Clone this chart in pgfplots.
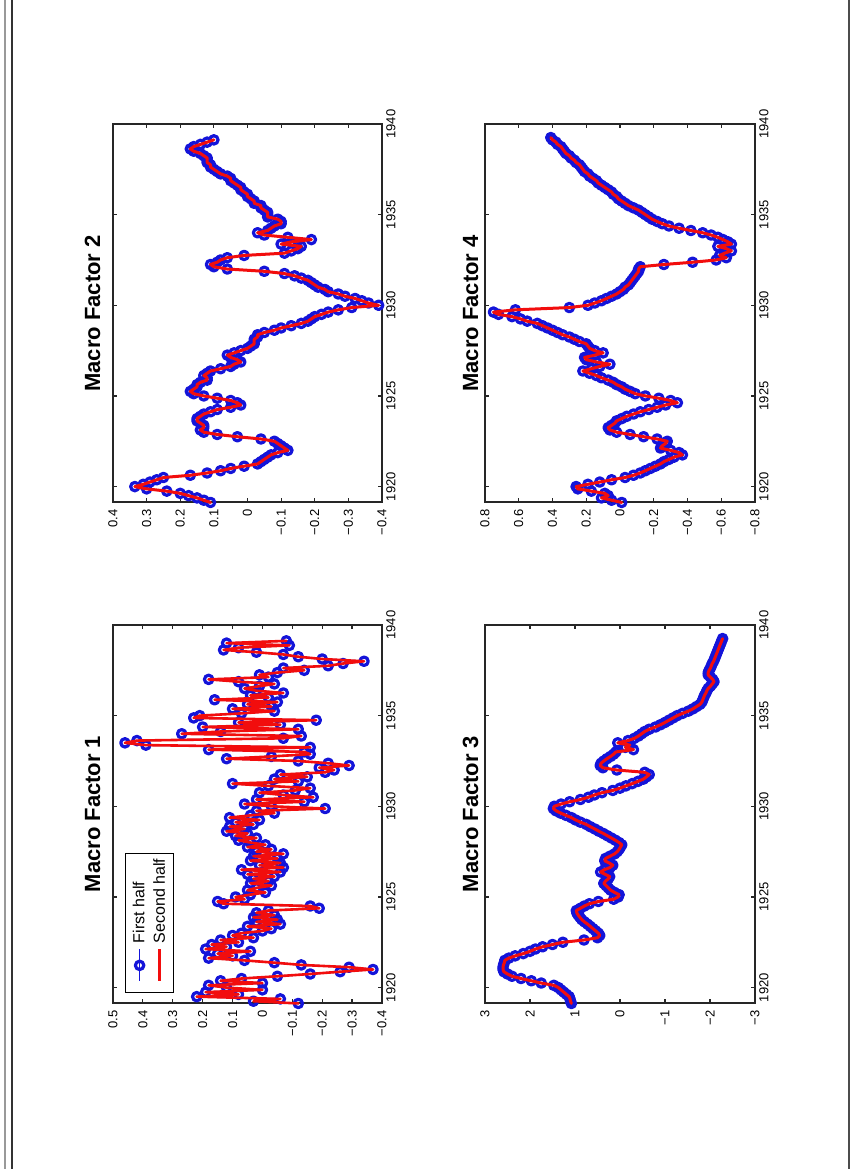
\documentclass[border=0pt]{standalone}
\usepackage{pgfplots}
\pgfplotsset{compat=1.18}
\usepackage{pgfplotstable}
\usepackage{fontspec}
\setmainfont{Liberation Sans}
\definecolor{mblue}{rgb}{0.08,0.08,0.85}
\definecolor{mred}{rgb}{0.95,0.05,0.05}

\pgfplotstableread{
t v
1919.125 -0.12
1919.25 0.03
1919.375 -0.06
1919.5 0.22
1919.625 0.08
1919.75 0.19
1919.875 0.00
1920.0 0.12
1920.125 0.18
1920.25 0.00
1920.375 0.14
1920.5 0.07
1920.625 -0.05
1920.75 -0.16
1920.875 -0.26
1921.0 -0.37
1921.125 -0.29
1921.25 -0.13
1921.375 -0.04
1921.5 0.06
1921.625 0.18
1921.75 0.10
1921.875 0.15
1922.0 0.04
1922.125 0.19
1922.25 0.12
1922.375 0.17
1922.5 0.08
1922.625 0.14
1922.75 0.03
1922.875 0.10
1923.0 0.07
1923.125 0.00
1923.25 -0.03
1923.375 0.05
1923.5 -0.06
1923.625 0.02
1923.75 -0.05
1923.875 0.03
1924.0 -0.04
1924.125 0.02
1924.25 -0.02
1924.375 -0.19
1924.5 -0.16
1924.625 0.13
1924.75 0.15
1924.875 0.06
1925.0 0.09
1925.125 0.04
1925.25 -0.01
1925.375 0.05
1925.5 0.02
1925.625 -0.03
1925.75 0.04
1925.875 -0.02
1926.0 0.03
1926.125 -0.04
1926.25 0.05
1926.375 -0.06
1926.5 0.07
1926.625 -0.07
1926.75 0.01
1926.875 -0.06
1927.0 0.04
1927.125 -0.05
1927.25 0.03
1927.375 -0.07
1927.5 0.02
1927.625 -0.03
1927.75 0.05
1927.875 -0.01
1928.0 0.04
1928.125 0.08
1928.25 0.02
1928.375 0.09
1928.5 0.05
1928.625 0.12
1928.75 0.06
1928.875 0.11
1929.0 0.03
1929.125 0.09
1929.25 0.01
1929.375 0.11
1929.5 0.04
1929.625 -0.04
1929.75 0.02
1929.875 -0.21
1930.0 -0.03
1930.125 0.06
1930.25 -0.14
1930.375 0.02
1930.5 -0.17
1930.625 -0.07
1930.75 0.01
1930.875 -0.11
1931.0 -0.16
1931.125 -0.02
1931.25 0.10
1931.375 -0.12
1931.5 -0.04
1931.625 -0.15
1931.75 -0.06
1931.875 -0.21
1932.0 -0.24
1932.125 -0.19
1932.25 -0.29
1932.375 -0.22
1932.5 -0.12
1932.625 0.12
1932.75 -0.03
1932.875 -0.16
1933.0 -0.14
1933.125 0.18
1933.25 -0.16
1933.375 0.39
1933.5 0.46
1933.625 0.42
1933.75 -0.07
1933.875 -0.13
1934.0 0.27
1934.125 0.14
1934.25 -0.12
1934.375 0.20
1934.5 -0.06
1934.625 0.08
1934.75 -0.18
1934.875 0.23
1935.0 0.21
1935.125 0.07
1935.25 -0.04
1935.375 0.10
1935.5 -0.03
1935.625 0.05
1935.75 -0.05
1935.875 0.16
1936.0 -0.02
1936.125 0.04
1936.25 -0.07
1936.375 0.02
1936.5 0.06
1936.625 0.01
1936.75 -0.04
1936.875 0.08
1937.0 0.18
1937.125 -0.02
1937.25 0.01
1937.375 -0.05
1937.5 -0.14
1937.625 -0.07
1937.75 -0.22
1937.875 -0.27
1938.0 -0.34
1938.125 -0.20
1938.25 -0.12
1938.375 -0.07
1938.5 0.02
1938.625 0.13
1938.75 0.08
1938.875 -0.09
1939.0 0.12
1939.125 -0.08
}\fone

\pgfplotstableread{
t v
1919.125 0.11
1919.25 0.13
1919.375 0.15
1919.5 0.175
1919.625 0.20
1919.75 0.24
1919.875 0.30
1920.0 0.335
1920.125 0.31
1920.25 0.29
1920.375 0.27
1920.5 0.25
1920.625 0.17
1920.75 0.12
1920.875 0.08
1921.0 0.05
1921.125 0.01
1921.25 -0.03
1921.375 -0.04
1921.5 -0.05
1921.625 -0.06
1921.75 -0.07
1921.875 -0.09
1922.0 -0.12
1922.125 -0.11
1922.25 -0.10
1922.375 -0.09
1922.5 -0.08
1922.625 -0.04
1922.75 0.03
1922.875 0.09
1923.0 0.13
1923.125 0.14
1923.25 0.13
1923.375 0.13
1923.5 0.14
1923.625 0.15
1923.75 0.15
1923.875 0.14
1924.0 0.13
1924.125 0.11
1924.25 0.09
1924.375 0.05
1924.5 0.02
1924.625 0.03
1924.75 0.05
1924.875 0.09
1925.0 0.13
1925.125 0.16
1925.25 0.17
1925.375 0.16
1925.5 0.15
1925.625 0.15
1925.75 0.14
1925.875 0.12
1926.0 0.12
1926.125 0.13
1926.25 0.12
1926.375 0.11
1926.5 0.08
1926.625 0.05
1926.75 0.04
1926.875 0.02
1927.0 0.03
1927.125 0.05
1927.25 0.06
1927.375 0.04
1927.5 0.02
1927.625 0.00
1927.75 -0.01
1927.875 -0.02
1928.0 -0.02
1928.125 -0.02
1928.25 -0.03
1928.375 -0.03
1928.5 -0.05
1928.625 -0.08
1928.75 -0.10
1928.875 -0.13
1929.0 -0.16
1929.125 -0.18
1929.25 -0.19
1929.375 -0.20
1929.5 -0.22
1929.625 -0.24
1929.75 -0.27
1929.875 -0.31
1930.0 -0.39
1930.125 -0.36
1930.25 -0.34
1930.375 -0.32
1930.5 -0.29
1930.625 -0.27
1930.75 -0.24
1930.875 -0.23
1931.0 -0.21
1931.125 -0.20
1931.25 -0.19
1931.375 -0.18
1931.5 -0.16
1931.625 -0.14
1931.75 -0.11
1931.875 -0.05
1932.0 0.06
1932.125 0.10
1932.25 0.11
1932.375 0.09
1932.5 0.08
1932.625 0.06
1932.75 0.01
1932.875 -0.11
1933.0 -0.13
1933.125 -0.15
1933.25 -0.16
1933.375 -0.10
1933.5 -0.13
1933.625 -0.19
1933.75 -0.12
1933.875 -0.05
1934.0 -0.03
1934.125 -0.06
1934.25 -0.07
1934.375 -0.08
1934.5 -0.10
1934.625 -0.10
1934.75 -0.09
1934.875 -0.06
1935.0 -0.06
1935.125 -0.06
1935.25 -0.05
1935.375 -0.04
1935.5 -0.04
1935.625 -0.02
1935.75 -0.02
1935.875 -0.01
1936.0 0.00
1936.125 0.00
1936.25 0.01
1936.375 0.02
1936.5 0.02
1936.625 0.03
1936.75 0.04
1936.875 0.05
1937.0 0.05
1937.125 0.06
1937.25 0.08
1937.375 0.09
1937.5 0.10
1937.625 0.11
1937.75 0.11
1937.875 0.12
1938.0 0.12
1938.125 0.12
1938.25 0.13
1938.375 0.14
1938.5 0.16
1938.625 0.17
1938.75 0.16
1938.875 0.14
1939.0 0.12
1939.125 0.10
}\ftwo

\pgfplotstableread{
t v
1919.125 1.08
1919.25 1.10
1919.375 1.11
1919.5 1.13
1919.625 1.19
1919.75 1.25
1919.875 1.31
1920.0 1.37
1920.125 1.47
1920.25 1.75
1920.375 1.97
1920.5 2.20
1920.625 2.40
1920.75 2.50
1920.875 2.58
1921.0 2.60
1921.125 2.60
1921.25 2.59
1921.375 2.57
1921.5 2.56
1921.625 2.47
1921.75 2.33
1921.875 2.15
1922.0 2.00
1922.125 1.88
1922.25 1.72
1922.375 1.50
1922.5 1.27
1922.625 0.80
1922.75 0.50
1922.875 0.45
1923.0 0.48
1923.125 0.54
1923.25 0.60
1923.375 0.66
1923.5 0.72
1923.625 0.79
1923.75 0.85
1923.875 0.89
1924.0 0.93
1924.125 0.96
1924.25 0.97
1924.375 0.88
1924.5 0.79
1924.625 0.68
1924.75 0.48
1924.875 0.14
1925.0 0.04
1925.125 0.02
1925.25 0.12
1925.375 0.21
1925.5 0.26
1925.625 0.31
1925.75 0.36
1925.875 0.32
1926.0 0.26
1926.125 0.23
1926.25 0.33
1926.375 0.43
1926.5 0.35
1926.625 0.22
1926.75 0.16
1926.875 0.24
1927.0 0.34
1927.125 0.32
1927.25 0.22
1927.375 0.12
1927.5 0.06
1927.625 0.02
1927.75 -0.01
1927.875 -0.04
1928.0 0.02
1928.125 0.10
1928.25 0.19
1928.375 0.28
1928.5 0.37
1928.625 0.47
1928.75 0.56
1928.875 0.66
1929.0 0.75
1929.125 0.88
1929.25 0.99
1929.375 1.08
1929.5 1.20
1929.625 1.32
1929.75 1.42
1929.875 1.48
1930.0 1.46
1930.125 1.31
1930.25 1.12
1930.375 0.88
1930.5 0.70
1930.625 0.57
1930.75 0.40
1930.875 0.16
1931.0 0.00
1931.125 -0.13
1931.25 -0.27
1931.375 -0.40
1931.5 -0.52
1931.625 -0.59
1931.75 -0.65
1931.875 -0.55
1932.0 0.07
1932.125 0.38
1932.25 0.44
1932.375 0.42
1932.5 0.36
1932.625 0.29
1932.75 0.21
1932.875 0.14
1933.0 0.09
1933.125 -0.30
1933.25 -0.12
1933.375 -0.22
1933.5 0.05
1933.625 -0.18
1933.75 -0.32
1933.875 -0.41
1934.0 -0.48
1934.125 -0.55
1934.25 -0.65
1934.375 -0.79
1934.5 -0.90
1934.625 -1.00
1934.75 -1.09
1934.875 -1.18
1935.0 -1.27
1935.125 -1.39
1935.25 -1.52
1935.375 -1.62
1935.5 -1.70
1935.625 -1.78
1935.75 -1.82
1935.875 -1.84
1936.0 -1.86
1936.125 -1.88
1936.25 -1.91
1936.375 -1.93
1936.5 -1.96
1936.625 -2.01
1936.75 -2.05
1936.875 -2.09
1937.0 -2.06
1937.125 -2.01
1937.25 -1.96
1937.375 -1.96
1937.5 -1.98
1937.625 -2.01
1937.75 -2.03
1937.875 -2.05
1938.0 -2.08
1938.125 -2.10
1938.25 -2.12
1938.375 -2.14
1938.5 -2.16
1938.625 -2.18
1938.75 -2.20
1938.875 -2.22
1939.0 -2.24
1939.125 -2.26
1939.25 -2.28
}\fthree

\pgfplotstableread{
t v
1919.125 -0.01
1919.25 0.05
1919.375 0.11
1919.5 0.07
1919.625 0.09
1919.75 0.17
1919.875 0.25
1920.0 0.26
1920.125 0.19
1920.25 0.12
1920.375 0.05
1920.5 -0.03
1920.625 -0.08
1920.75 -0.12
1920.875 -0.15
1921.0 -0.18
1921.125 -0.21
1921.25 -0.24
1921.375 -0.26
1921.5 -0.29
1921.625 -0.32
1921.75 -0.37
1921.875 -0.35
1922.0 -0.30
1922.125 -0.24
1922.25 -0.25
1922.375 -0.27
1922.5 -0.28
1922.625 -0.22
1922.75 -0.14
1922.875 -0.06
1923.0 0.02
1923.125 0.06
1923.25 0.07
1923.375 0.05
1923.5 0.03
1923.625 0.02
1923.75 -0.01
1923.875 -0.04
1924.0 -0.08
1924.125 -0.12
1924.25 -0.17
1924.375 -0.22
1924.5 -0.27
1924.625 -0.34
1924.75 -0.30
1924.875 -0.23
1925.0 -0.15
1925.125 -0.09
1925.25 -0.06
1925.375 -0.03
1925.5 -0.01
1925.625 0.02
1925.75 0.04
1925.875 0.07
1926.0 0.11
1926.125 0.14
1926.25 0.18
1926.375 0.22
1926.5 0.17
1926.625 0.12
1926.75 0.06
1926.875 0.14
1927.0 0.20
1927.125 0.21
1927.25 0.15
1927.375 0.10
1927.5 0.15
1927.625 0.18
1927.75 0.19
1927.875 0.20
1928.0 0.24
1928.125 0.27
1928.25 0.30
1928.375 0.34
1928.5 0.37
1928.625 0.40
1928.75 0.43
1928.875 0.46
1929.0 0.49
1929.125 0.55
1929.25 0.59
1929.375 0.64
1929.5 0.72
1929.625 0.75
1929.75 0.62
1929.875 0.30
1930.0 0.19
1930.125 0.15
1930.25 0.11
1930.375 0.08
1930.5 0.05
1930.625 0.02
1930.75 0.00
1930.875 -0.02
1931.0 -0.03
1931.125 -0.05
1931.25 -0.06
1931.375 -0.07
1931.5 -0.08
1931.625 -0.09
1931.75 -0.10
1931.875 -0.11
1932.0 -0.11
1932.125 -0.12
1932.25 -0.26
1932.375 -0.43
1932.5 -0.57
1932.625 -0.63
1932.75 -0.59
1932.875 -0.62
1933.0 -0.66
1933.125 -0.63
1933.25 -0.58
1933.375 -0.66
1933.5 -0.64
1933.625 -0.61
1933.75 -0.58
1933.875 -0.54
1934.0 -0.49
1934.125 -0.42
1934.25 -0.35
1934.375 -0.29
1934.5 -0.25
1934.625 -0.22
1934.75 -0.19
1934.875 -0.17
1935.0 -0.15
1935.125 -0.13
1935.25 -0.11
1935.375 -0.08
1935.5 -0.05
1935.625 -0.03
1935.75 -0.01
1935.875 0.01
1936.0 0.02
1936.125 0.04
1936.25 0.05
1936.375 0.07
1936.5 0.09
1936.625 0.11
1936.75 0.13
1936.875 0.14
1937.0 0.16
1937.125 0.18
1937.25 0.19
1937.375 0.21
1937.5 0.22
1937.625 0.23
1937.75 0.24
1937.875 0.26
1938.0 0.27
1938.125 0.29
1938.25 0.30
1938.375 0.32
1938.5 0.33
1938.625 0.34
1938.75 0.35
1938.875 0.37
1939.0 0.38
1939.125 0.40
1939.25 0.41
}\ffour

\pgfplotsset{
  mstyle/.style={
    scale only axis, width=134.5pt, height=189pt,
    x dir=reverse,
    ymin=1919.15, ymax=1940,
    ytick={1920,1925,1930,1935,1940},
    yticklabels={1920,1925,1930,1935,1940},
    yticklabel pos=right,
    tick align=inside,
    major tick length=2pt,
    axis line style={line width=0.7pt, black!85},
    every tick/.style={black!85, line width=0.6pt},
    xticklabel style={rotate=90, anchor=east, inner sep=0pt, font=\fontsize{6.5}{7}\selectfont},
    yticklabel style={rotate=90, anchor=north, inner sep=0pt, font=\fontsize{6.5}{7}\selectfont},
    xticklabel shift=3.5pt, yticklabel shift=2pt,
    clip=false,
    clip marker paths=true,
  },
  pblue/.style={mblue, line width=0.8pt, line join=round, mark=o, mark size=2.1pt, mark options={line width=1.6pt, solid}},
  pred/.style={mred, line width=1.5pt, line join=round, line cap=round, no markers},
}

\begin{document}
\begin{tikzpicture}
\path[use as bounding box] (0,0) rectangle (429.5pt,584.5pt);
\draw[black!40, line width=1pt] (2.5pt,0) -- (2.5pt,584.5pt);
\draw[black!80, line width=0.9pt] (6pt,0) -- (6pt,584.5pt);
\draw[black!70, line width=0.9pt] (424.5pt,0) -- (424.5pt,584.5pt);

% Macro Factor 2 (top left)
\begin{axis}[mstyle, at={(56.5pt,333.5pt)}, anchor=south west,
  xmin=-0.4, xmax=0.4,
  xtick={-0.4,-0.3,-0.2,-0.1,0,0.1,0.2,0.3,0.4},
  xticklabels={−0.4,−0.3,−0.2,−0.1,0,0.1,0.2,0.3,0.4}]
\addplot[pblue] table[x=v,y=t] {\ftwo};
\addplot[pred] table[x=v,y=t] {\ftwo};
\end{axis}

% Macro Factor 1 (bottom left)
\begin{axis}[mstyle, at={(56.5pt,83pt)}, anchor=south west,
  xmin=-0.4, xmax=0.5,
  xtick={-0.4,-0.3,-0.2,-0.1,0,0.1,0.2,0.3,0.4,0.5},
  xticklabels={−0.4,−0.3,−0.2,−0.1,0,0.1,0.2,0.3,0.4,0.5},
  legend columns=-1,
  legend cell align=left,
  legend style={at={(axis description cs:0.045,0.026)}, anchor=south west,
    font=\fontsize{8}{9}\selectfont, draw=black, line width=0.5pt,
    inner sep=2pt, column sep=0pt,
    nodes={rotate=90, anchor=west, inner sep=0.8pt}},
  legend image code/.code={%
    \draw[overlay, line cap=butt, mark repeat=2, mark phase=2, #1] plot coordinates {(4.6pt,-2pt) (4.6pt,-10pt) (4.6pt,-18pt)};
    \path (0pt,-21pt) (0pt,0pt);
  }]
\addplot[pblue] table[x=v,y=t] {\fone};
\addlegendentry{First half}
\addplot[pred, line width=1.3pt] table[x=v,y=t] {\fone};
\addlegendentry{Second half}
\end{axis}

% Macro Factor 4 (top right)
\begin{axis}[mstyle, width=135pt, at={(242.5pt,333.5pt)}, anchor=south west,
  xmin=-0.8, xmax=0.8,
  xtick={-0.8,-0.6,-0.4,-0.2,0,0.2,0.4,0.6,0.8},
  xticklabels={−0.8,−0.6,−0.4,−0.2,0,0.2,0.4,0.6,0.8}]
\addplot[pblue] table[x=v,y=t] {\ffour};
\addplot[pred] table[x=v,y=t] {\ffour};
\end{axis}

% Macro Factor 3 (bottom right)
\begin{axis}[mstyle, width=135pt, at={(242.5pt,83pt)}, anchor=south west,
  xmin=-3, xmax=3,
  xtick={-3,-2,-1,0,1,2,3},
  xticklabels={−3,−2,−1,0,1,2,3}]
\addplot[pblue] table[x=v,y=t] {\fthree};
\addplot[pred] table[x=v,y=t] {\fthree};
\end{axis}

\node[rotate=90, anchor=base, font=\fontsize{11}{13}\selectfont\bfseries] at (50pt,427.75pt) {Macro Factor 2};
\node[rotate=90, anchor=base, font=\fontsize{11}{13}\selectfont\bfseries] at (50pt,177.5pt) {Macro Factor 1};
\node[rotate=90, anchor=base, font=\fontsize{11}{13}\selectfont\bfseries] at (239pt,427.75pt) {Macro Factor 4};
\node[rotate=90, anchor=base, font=\fontsize{11}{13}\selectfont\bfseries] at (239pt,177.5pt) {Macro Factor 3};
\end{tikzpicture}
\end{document}
